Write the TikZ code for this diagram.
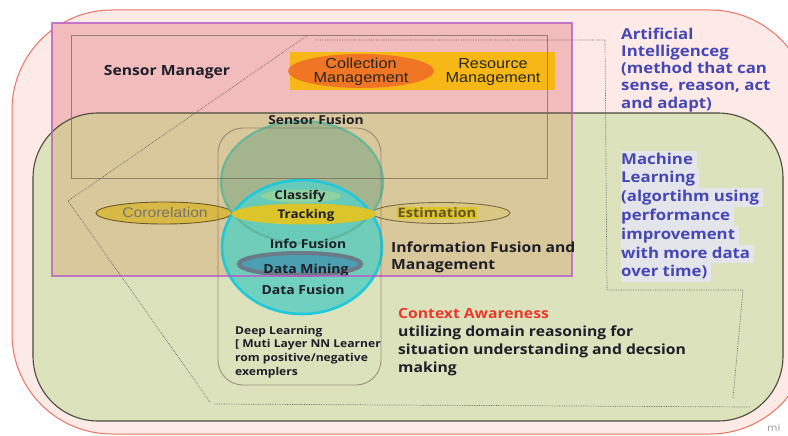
\documentclass[tikz,border=0pt]{standalone}
\usepackage{fontspec}
\setmainfont{Open Sans}[FakeStretch=1.12]
\newfontfamily\arialfont{Liberation Sans}[FakeStretch=1.12]
\usetikzlibrary{shapes.geometric}
\definecolor{aibg}{HTML}{FDE9E6}
\definecolor{ailine}{HTML}{E8735F}
\definecolor{mlbg}{HTML}{DCE3BC}
\definecolor{mlline}{HTML}{4A4A3E}
\definecolor{smpink}{HTML}{F2BCBC}
\definecolor{smtan}{HTML}{D9C89B}
\definecolor{smline}{HTML}{B65FC6}
\definecolor{boxline}{HTML}{7E7060}
\definecolor{resyellow}{HTML}{F6B717}
\definecolor{colorange}{HTML}{F07524}
\definecolor{upfill}{HTML}{82A885}
\definecolor{upline}{HTML}{5BB79A}
\definecolor{lowfill}{HTML}{5ECFC0}
\definecolor{lowline}{HTML}{1FC8DA}
\definecolor{trackyellow}{HTML}{DCC52A}
\definecolor{classgreen}{HTML}{8FD3A0}
\definecolor{corgold}{HTML}{D9B945}
\definecolor{olive}{HTML}{6B5A2A}
\definecolor{minefill}{HTML}{4AA0B0}
\definecolor{mineline}{HTML}{6A7A88}
\definecolor{txtdark}{HTML}{1E1E28}
\definecolor{aiblue}{HTML}{4547B5}
\definecolor{ctxred}{HTML}{E8392B}
\definecolor{mlhl}{HTML}{E3E5EA}
\newcommand\hlline[1]{{\setlength{\fboxsep}{0pt}\colorbox{mlhl}{\vrule height 13.5pt depth 5.3pt width 0pt#1\hspace{4pt}}}}

\begin{document}
\begin{tikzpicture}[x=1pt,y=-1pt,
  lbl/.style={inner sep=0,text=txtdark,font=\bfseries\fontsize{14}{18}\selectfont,align=left},
  small/.style={inner sep=0,text=txtdark,font=\bfseries\fontsize{12}{14}\selectfont,align=center},
  arial/.style={inner sep=0,font=\arialfont\fontsize{14.5}{14}\selectfont,align=center},
  oval/.style={ellipse,inner sep=0},
  frame/.style={draw=boxline,line width=0.9pt},
  dots/.style={densely dotted,draw=black!60,line width=0.7pt}
]
\useasboundingbox[fill=white] (0,0) rectangle (788,436);

% artificial intelligence and machine learning areas
\path[fill=aibg,draw=ailine,line width=1pt,rounded corners=100pt] (12,10) rectangle (810,434);
\path[fill=mlbg,rounded corners=65pt] (33,113) rectangle (783,421);
% sensor manager area, tan where it overlaps machine learning
\path[fill=smpink] (52,23) rectangle (572,276);
\begin{scope}
  \clip[rounded corners=65pt] (33,113) rectangle (783,421);
  \fill[smtan] (52,23) rectangle (572,276);
\end{scope}
\path[draw=mlline,line width=1.1pt,rounded corners=65pt] (33,113) rectangle (783,421);

% dotted outline
\draw[dots] (308,35) -- (68,201) -- (210,402);
\draw[dots] (315,40) -- (605,40) -- (607,290) -- (743,290) -- (733,398);
\draw[dots] (214,404) -- (750,407);

% collection / resource management
\fill[resyellow] (290,52) rectangle (555,90);
\node[oval,fill=colorange,minimum width=146pt,minimum height=34pt] (colm) at (361,71) {};
\node[arial,text=black!85] (coltxt) at (361,72) {Collection\\Management};
\node[arial,text=black!85] (restxt) at (493,72) {Resource\\Management};
\node[lbl] (smtxt) at (167,72) {Sensor Manager};

% correlation and estimation
\node[oval,fill=corgold,draw=olive,line width=0.9pt,minimum width=136pt,minimum height=22pt] (cor) at (164,213) {};
\node[arial,text=black!55,font=\arialfont\fontsize{14}{14}\selectfont] (cortxt) at (165,212) {Cororelation};
\node[oval,fill=smtan!80!trackyellow,draw=olive!90,line width=0.9pt,minimum width=138pt,minimum height=21pt] (est) at (441,213) {};
\node[small,fill=trackyellow,text=olive!95!black,font=\bfseries\fontsize{13}{14}\selectfont,inner sep=1pt] (esttxt) at (437,213) {Estimation};

% sensor fusion circles
\node[oval,fill=upfill,fill opacity=0.6,minimum width=162pt,minimum height=122pt] (up) at (302,182) {};
\node[oval,fill=lowfill,fill opacity=0.85,minimum width=160pt,minimum height=134pt] (low) at (302,247) {};
\node[oval,draw=lowline,line width=2.6pt,minimum width=160pt,minimum height=134pt] (lowrim) at (302,247) {};
\node[oval,draw=upline,draw opacity=0.85,line width=2.2pt,minimum width=162pt,minimum height=122pt] (uprim) at (302,182) {};
\node[oval,fill=classgreen,minimum width=80pt,minimum height=13pt] (cls) at (301,196) {};
\node[oval,fill=trackyellow,minimum width=145pt,minimum height=21pt] (trk) at (304,214) {};
\node[oval,fill=minefill,draw=mineline,line width=4pt,minimum width=122pt,minimum height=22pt] (mine) at (300,264) {};
\node[small] (clstxt) at (300,196) {Classify};
\node[small] (trktxt) at (306,215) {Tracking};
\node[small,font=\bfseries\fontsize{12.3}{14}\selectfont] (inftxt) at (308,244) {Info Fusion};
\node[small,font=\bfseries\fontsize{12.5}{14}\selectfont] (minetxt) at (306,270) {Data Mining};
\node[small,font=\bfseries\fontsize{12.5}{14}\selectfont] (dftxt) at (303,290) {Data Fusion};

% frames drawn over the circles
\draw[draw=smline,line width=1.3pt,draw opacity=0.8] (52,23) rectangle (572,276);
\draw[frame,draw opacity=0.8] (71,35) rectangle (547,178);
\draw[frame,draw opacity=0.7,rounded corners=25pt] (218,128) rectangle (381,385);
\node[small,font=\bfseries\fontsize{12.3}{14}\selectfont] (sftxt) at (316,120) {Sensor Fusion};

% text blocks (base anchor sits on the last line)
\node[lbl,anchor=base west,font=\bfseries\fontsize{10.8}{13.8}\selectfont] (dltxt) at (235,375.4)
  {Deep Learning\\{[} Muti Layer NN Learner\\rom positive/negative\\exemplers};
\node[lbl,anchor=base west,font=\bfseries\fontsize{14}{17.5}\selectfont] (iftxt) at (391,269.5) {Information Fusion and\\Management};
\node[lbl,anchor=base west,text=ctxred] (ctxhead) at (398,318) {Context Awareness};
\node[lbl,anchor=base west] (ctxtxt) at (398,372)
  {utilizing domain reasoning for\\situation understanding and decsion\\making};
\node[lbl,anchor=base west,text=aiblue,font=\bfseries\fontsize{15}{17.3}\selectfont] (aitxt) at (621,108.2)
  {Artificial\\Intelligenceg\\(method that can\\sense, reason, act\\and adapt)};
\node[lbl,anchor=base west,text=aiblue,font=\bfseries\fontsize{15}{18.8}\selectfont] (mltxt) at (621,276.8)
  {\hlline{Machine}\\\hlline{Learning}\\\hlline{(algortihm using}\\\hlline{performance}\\\hlline{improvement}\\\hlline{with more data}\\\hlline{over time)}};
\node[inner sep=0,anchor=west,text=black!40,font=\fontsize{10}{12}\selectfont] (mark) at (767,428) {mi};
\end{tikzpicture}
\end{document}
